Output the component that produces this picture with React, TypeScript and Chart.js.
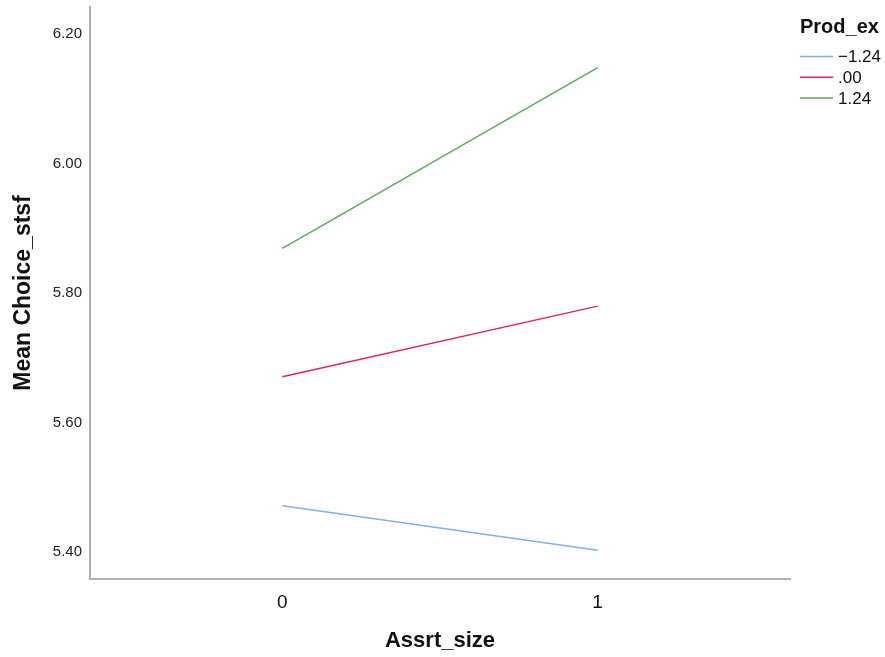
import React, { useEffect, useRef } from "react";
import { Chart, registerables } from "chart.js";

Chart.register(...registerables);

const categories = [0, 1];
const seriesLabels = ["\u22121.24", ".00", "1.24"];
const seriesBlue = [5.472, 5.403];
const seriesRed = [5.671, 5.780];
const seriesGreen = [5.869, 6.148];
const seriesColors = ["#7eb0ee", "#e0245a", "#5fa85f"];
const yTicks = [5.4, 5.6, 5.8, 6.0, 6.2];
const legendTitle = "Prod_ex";
const xTitle = "Assrt_size";
const yTitle = "Mean Choice_stsf";

const FONT = "'Liberation Sans', Arial, Helvetica, sans-serif";

const legendPlugin = {
  id: "customLegend",
  afterDraw(chart: any) {
    const ctx = chart.ctx as CanvasRenderingContext2D;
    const x0 = chart.chartArea.right + 10;
    ctx.save();
    ctx.fillStyle = "#111";
    ctx.textBaseline = "middle";
    ctx.textAlign = "left";
    ctx.font = `bold 20px ${FONT}`;
    ctx.fillText(legendTitle, x0, 27);
    ctx.font = `17px ${FONT}`;
    chart.data.datasets.forEach((ds: any, i: number) => {
      const y = 56.5 + i * 20.8;
      ctx.strokeStyle = ds.borderColor;
      ctx.lineWidth = 1.5;
      ctx.beginPath();
      ctx.moveTo(x0, y);
      ctx.lineTo(x0 + 33, y);
      ctx.stroke();
      ctx.fillStyle = "#111";
      ctx.fillText(ds.label, x0 + 38, y + 1);
    });
    ctx.restore();
  },
};

export default function App() {
  const ref = useRef<HTMLCanvasElement | null>(null);

  useEffect(() => {
    document.body.style.margin = "0";
    const values = [seriesBlue, seriesRed, seriesGreen];
    const chart = new Chart(ref.current as HTMLCanvasElement, {
      type: "line",
      data: {
        datasets: values.map((vals, i) => ({
          label: seriesLabels[i],
          data: categories.map((c, j) => ({ x: c, y: vals[j] })),
          borderColor: seriesColors[i],
          backgroundColor: seriesColors[i],
          borderWidth: 1.5,
          pointRadius: 0,
          tension: 0,
        })),
      },
      options: {
        animation: false,
        responsive: false,
        maintainAspectRatio: false,
        layout: { padding: { top: 7, right: 95, left: 0, bottom: 0 } },
        plugins: { legend: { display: false }, tooltip: { enabled: false } },
        scales: {
          x: {
            type: "linear",
            min: -0.61,
            max: 1.61,
            afterBuildTicks: (s: any) => {
              s.ticks = categories.map((v) => ({ value: v }));
            },
            afterFit: (s: any) => {
              s.height = 78;
              s.paddingLeft = 0;
              s.paddingRight = 0;
            },
            grid: { display: false },
            border: { display: true, color: "#b0b0b0", width: 2 },
            ticks: {
              padding: 4,
              color: "#111",
              font: { family: FONT, size: 19 },
              callback: (v: any) => String(v),
            },
            title: {
              display: true,
              text: xTitle,
              color: "#111",
              font: { family: FONT, size: 22, weight: "bold" },
              padding: { top: 0, bottom: 3 },
            },
          },
          y: {
            type: "linear",
            min: 5.3588,
            max: 6.2417,
            afterBuildTicks: (s: any) => {
              s.ticks = yTicks.map((v) => ({ value: v }));
            },
            afterFit: (s: any) => {
              s.width = 90;
              s.paddingTop = 0;
              s.paddingBottom = 0;
            },
            grid: { display: false },
            border: { display: true, color: "#b0b0b0", width: 2 },
            ticks: {
              padding: 0,
              color: "#222",
              font: { family: FONT, size: 15 },
              callback: (v: any) => Number(v).toFixed(2),
            },
            title: {
              display: true,
              text: yTitle,
              color: "#111",
              font: { family: FONT, size: 23, weight: "bold" },
              padding: { top: 10, bottom: 0 },
            },
          },
        },
      },
      plugins: [legendPlugin],
    });
    return () => chart.destroy();
  }, []);

  return (
    <div style={{ width: 885, height: 657, position: "relative", background: "#fff" }}>
      <canvas ref={ref} width={885} height={657} style={{ display: "block", width: 885, height: 657 }} />
    </div>
  );
}
